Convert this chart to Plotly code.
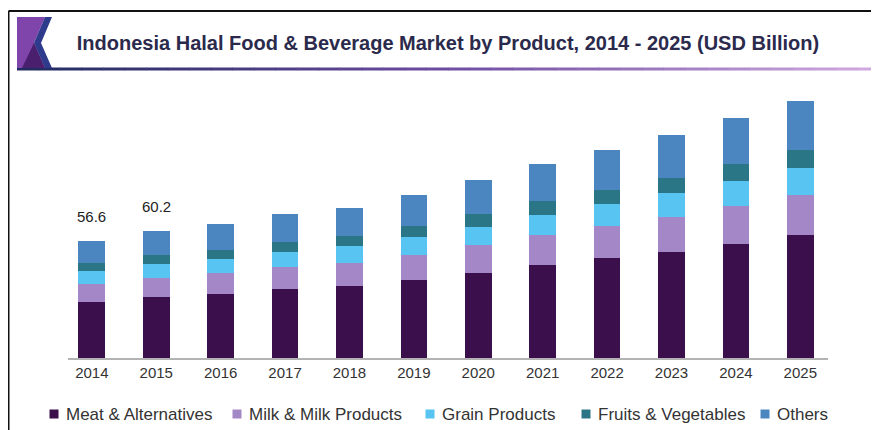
import plotly.graph_objects as go

years = ["2014", "2015", "2016", "2017", "2018", "2019", "2020", "2021", "2022", "2023", "2024", "2025"]
meat = [27.2, 29.4, 31.0, 33.3, 34.8, 37.7, 41.1, 45.1, 48.3, 51.6, 55.4, 59.5]
milk = [8.6, 9.4, 10.0, 11.0, 11.3, 12.5, 13.6, 14.5, 15.7, 17.0, 18.3, 19.4]
grain = [6.3, 6.6, 6.8, 7.3, 8.1, 8.6, 8.9, 10.0, 10.7, 11.6, 12.4, 13.3]
fruits = [3.9, 4.4, 4.4, 4.7, 4.9, 5.2, 6.1, 6.5, 6.6, 7.3, 8.1, 8.6]
others = [10.6, 11.6, 12.8, 13.4, 13.9, 15.2, 16.5, 18.1, 19.4, 20.9, 22.2, 23.8]
label_years = ["2014", "2015"]
label_texts = ["56.6", "60.2"]

series = [
    ("Meat & Alternatives", meat, "#3b0f4b"),
    ("Milk & Milk Products", milk, "#a487c6"),
    ("Grain Products", grain, "#57c4f1"),
    ("Fruits & Vegetables", fruits, "#2a7686"),
    ("Others", others, "#4c86c1"),
]

# page is rendered with an 8px body margin; work in page pixel coordinates
OFF = 8
W, H = 879 - OFF, 430 - OFF
L, R, T, B = 68 - OFF, 879 - 828, 90 - OFF, 430 - 358
PW, PH = W - L - R, H - T - B


def px(x):
    return (x - OFF - L) / PW


def py(y):
    return (H - B - (y - OFF)) / PH


fig = go.Figure()
for name, vals, col in series:
    fig.add_trace(go.Bar(x=years, y=vals, name=name, showlegend=False,
                         marker=dict(color=col, line=dict(width=0))))

annotations = []
for yr, txt in zip(label_years, label_texts):
    i = years.index(yr)
    total = sum(v[i] for _, v, _ in series)
    annotations.append(dict(x=i, y=total, xref="x", yref="y", text=txt, showarrow=False,
                            yshift=25, font=dict(size=15, color="#222222")))

shapes = []
# custom legend (positions in page pixels)
legend_x = [54, 237, 430, 586, 765]
legend_y = 414
for (name, vals, col), cx in zip(series, legend_x):
    shapes.append(dict(type="rect", xref="paper", yref="paper", x0=px(cx - 4.5), x1=px(cx + 4.5),
                       y0=py(legend_y + 4.5), y1=py(legend_y - 4.5), fillcolor=col, line=dict(width=0)))
    annotations.append(dict(x=px(cx + 10), y=py(legend_y), xref="paper", yref="paper", text=name,
                            showarrow=False, xanchor="left", yanchor="middle",
                            font=dict(size=17, color="#333333")))

# frame (top and left)
shapes.append(dict(type="line", xref="paper", yref="paper", x0=px(8.5), x1=px(890), y0=py(11), y1=py(11),
                   line=dict(color="#111111", width=2)))
shapes.append(dict(type="line", xref="paper", yref="paper", x0=px(8.5), x1=px(8.5), y0=py(11), y1=py(440),
                   line=dict(color="#111111", width=2)))
# title underline with gradient approximation
n = 40
c0 = (0x22, 0x2c, 0x62)
c1 = (0x6e, 0x4c, 0xa0)
c2 = (0xd0, 0xa8, 0xe0)
x_start, x_end = 17, 879
for i in range(n):
    t = i / (n - 1)
    if t < 0.5:
        a, b, f = c0, c1, t / 0.5
    else:
        a, b, f = c1, c2, (t - 0.5) / 0.5
    col = "rgb(%d,%d,%d)" % tuple(int(a[k] + (b[k] - a[k]) * f) for k in range(3))
    xa = x_start + (x_end - x_start) * i / n
    xb = x_start + (x_end - x_start) * (i + 1) / n + 0.5
    shapes.append(dict(type="line", xref="paper", yref="paper", x0=px(xa), x1=px(xb), y0=py(69), y1=py(69),
                       line=dict(color=col, width=3)))


def poly(pts, color):
    d = "M " + " L ".join("%f,%f" % (px(x), py(y)) for x, y in pts) + " Z"
    return dict(type="path", xref="paper", yref="paper", path=d, fillcolor=color, line=dict(width=0))


shapes.append(poly([(17, 17), (45, 17), (34, 43), (45, 68), (17, 68)], "#7f45aa"))
shapes.append(poly([(45, 17), (52, 17), (41, 43), (52, 68), (45, 68), (34, 43)], "#2e3b8c"))
shapes.append(poly([(22, 68), (34, 43), (45, 68)], "#4a1f6e"))

fig.update_layout(
    width=W, height=H,
    margin=dict(l=L, r=R, t=T, b=B),
    barmode="stack", bargap=0.585,
    paper_bgcolor="white", plot_bgcolor="white",
    showlegend=False,
    font=dict(family="Liberation Sans, Arial, sans-serif", color="#333333"),
    title=dict(text="<b>Indonesia Halal Food & Beverage Market by Product, 2014 - 2025 (USD Billion)</b>",
               x=(448 - OFF) / W, xref="container", xanchor="center", y=1 - (43 - OFF) / H, yref="container",
               yanchor="middle", font=dict(size=20, color="#2b2a4c")),
    xaxis=dict(type="category", range=[-0.37, 11.43], showline=True, linecolor="#b3b3b3", linewidth=1.5,
               showgrid=False, ticks="", tickfont=dict(size=15, color="#333333")),
    yaxis=dict(range=[0, 130], visible=False, showgrid=False),
    annotations=annotations,
    shapes=shapes,
)

fig.write_html("out.html")
